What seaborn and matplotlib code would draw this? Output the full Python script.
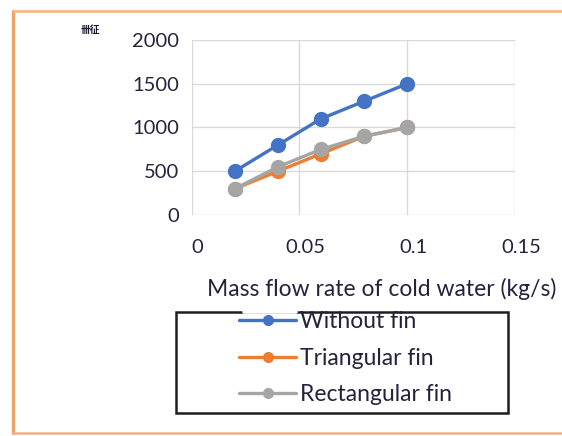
import matplotlib
matplotlib.use("Agg")
import matplotlib.pyplot as plt
import matplotlib.transforms as mtransforms
from matplotlib.patches import Rectangle
from matplotlib.lines import Line2D
import pandas as pd
import seaborn as sns

# Mass flow rate of cold water (kg/s) and values for each fin configuration
mass_flow = [0.02, 0.04, 0.06, 0.08, 0.10]
without_fin = [500, 800, 1100, 1300, 1500]
triangular_fin = [300, 500, 700, 900, 1000]
rectangular_fin = [300, 550, 750, 900, 1000]

series_names = ["Without fin", "Triangular fin", "Rectangular fin"]
series_colors = ["#4472C4", "#ED7D31", "#A5A5A5"]
x_ticks = [0, 0.05, 0.1, 0.15]
x_tick_labels = ["0", "0.05", "0.1", "0.15"]
y_ticks = [0, 500, 1000, 1500, 2000]
y_tick_labels = ["0", "500", "1000", "1500", "2000"]

df = pd.DataFrame({
    "flow": mass_flow * 3,
    "value": without_fin + triangular_fin + rectangular_fin,
    "series": [n for n in series_names for _ in mass_flow],
})

sns.set_style("white")
plt.rcParams["font.family"] = ["Lato", "Noto Sans CJK SC", "DejaVu Sans"]
text_color = "#26223c"

W, H = 562, 436
fig = plt.figure(figsize=(W / 100, H / 100), dpi=100)
ax = fig.add_axes([191.7 / W, 1 - 215 / H, (515 - 191.7) / W, (215 - 40) / H])

sns.lineplot(data=df, x="flow", y="value", hue="series", hue_order=series_names,
             palette=series_colors, marker="o", markersize=11, markeredgewidth=0,
             linewidth=2.4, ax=ax, legend=False)

ax.set_xlim(0, 0.15)
ax.set_ylim(0, 2000)
ax.set_xticks(x_ticks)
ax.set_xticklabels(x_tick_labels)
ax.set_yticks(y_ticks)
ax.set_yticklabels(y_tick_labels)
ax.grid(True, color="#d9d9d9", linewidth=1.0)
for s in ax.spines.values():
    s.set_visible(False)
ax.tick_params(axis="both", length=0, labelsize=14.5, colors=text_color)
ax.tick_params(axis="x", pad=17)
ax.tick_params(axis="y", pad=9)
shift = mtransforms.ScaledTranslation(6 / 100, 0, fig.dpi_scale_trans)
for lbl in ax.get_xticklabels():
    lbl.set_transform(lbl.get_transform() + shift)

ax.set_xlabel("")
ax.set_ylabel("")
fig.text(207 / W, 1 - 289 / H, "Mass flow rate of cold water (kg/s)",
         fontsize=16.5, color=text_color, ha="left", va="center")

# small axis title in the upper-left corner
fig.text(90 / W, 1 - 30 / H, "卌征", fontsize=7, fontweight="bold",
         color="#1a1a2e", ha="center", va="center",
         family=["Noto Sans CJK SC", "DejaVu Sans"])

# legend
handles = [Line2D([], [], color=c, linewidth=2.4, marker="o", markersize=8,
                  markeredgewidth=0) for c in series_colors]
fig.legend(handles, series_names, loc="upper left",
           bbox_to_anchor=(239 / W, 1 - 311 / H), frameon=False,
           fontsize=16.5, labelcolor=text_color, handlelength=2.5,
           handletextpad=0.15, labelspacing=0.68, borderpad=0, borderaxespad=0)

fig.add_artist(Rectangle((176 / W, 1 - 413 / H), (508 - 176) / W, (413 - 312) / H,
                         transform=fig.transFigure, fill=False,
                         edgecolor="#1e1e1e", linewidth=1.8))
fig.add_artist(Line2D([244 / W, 296 / W], [1 - 312 / H, 1 - 312 / H],
                      transform=fig.transFigure, color="white", linewidth=2.6))

# chart area border (left, top and bottom edges)
border = "#F4B183"
fig.add_artist(Line2D([13 / W, 13 / W], [1 - 11 / H, 1 - 433 / H],
                      transform=fig.transFigure, color="#F0A468", linewidth=2.4))
fig.add_artist(Line2D([13 / W, 1.0], [1 - 11 / H, 1 - 11 / H],
                      transform=fig.transFigure, color=border, linewidth=1.8))
fig.add_artist(Line2D([13 / W, 1.0], [1 - 433 / H, 1 - 433 / H],
                      transform=fig.transFigure, color=border, linewidth=1.8))

fig.savefig("out.png", dpi=100)
